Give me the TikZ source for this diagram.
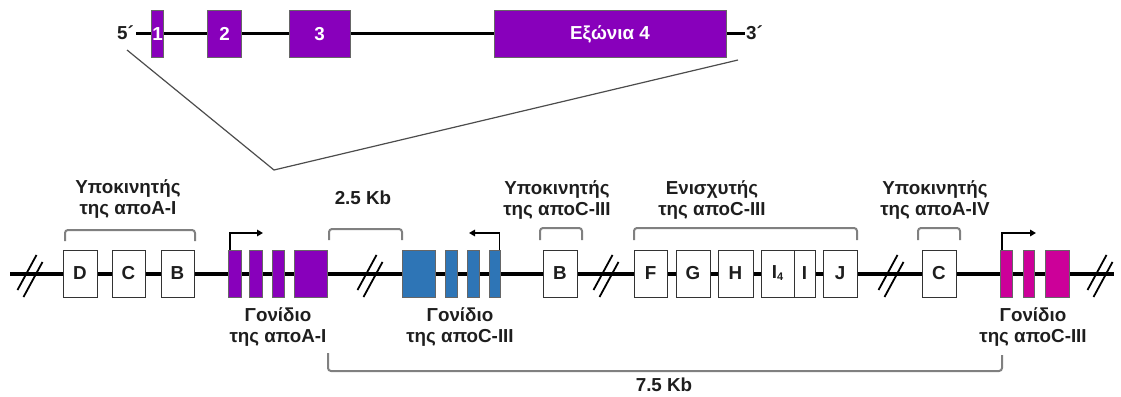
\documentclass[tikz,border=0pt]{standalone}
\usepackage{fontspec}
\setmainfont{Liberation Sans}
\usetikzlibrary{arrows.meta}
\definecolor{apoP}{RGB}{136,0,187}
\definecolor{apoB}{RGB}{46,117,182}
\definecolor{apoM}{RGB}{204,0,153}
\definecolor{brkgray}{RGB}{128,128,128}
\definecolor{txt}{RGB}{30,30,30}
\begin{document}
\begin{tikzpicture}[x=1pt,y=-1pt,
  lbl/.style={font=\fontsize{18.8}{21}\selectfont\bfseries, text=txt, align=center, inner sep=0},
  wlbl/.style={font=\fontsize{18.8}{21}\selectfont\bfseries, text=white},
  exP/.style={draw=black!60, line width=0.6pt, fill=apoP, inner sep=0, minimum height=47},
  exB/.style={draw=black!60, line width=0.6pt, fill=apoB, inner sep=0, minimum height=47},
  exM/.style={draw=black!60, line width=0.6pt, fill=apoM, inner sep=0, minimum height=47},
  wbox/.style={draw=black!80, line width=0.7pt, fill=white, inner sep=0, minimum height=47, font=\fontsize{18.8}{21}\selectfont\bfseries, text=txt},
  brack/.style={draw=brkgray, line width=2pt, rounded corners=3pt},
  dna/.style={draw=black, line width=3.2pt},
  slash/.style={draw=black, line width=1.8pt},
  tss/.style={draw=black, line width=1.6pt, -{Triangle[length=6pt,width=6.5pt]}},
  zoomln/.style={draw=black!70, line width=1.2pt}
]
\useasboundingbox (0,0) rectangle (1121,396);

% ---------- top gene ----------
\coordinate (tl) at (136,34);
\coordinate (tr) at (745,34);
\draw[dna, line width=3pt] (tl) -- (tr);
\node[lbl, anchor=east] (p5) at (134,33) {5´};
\node[lbl, anchor=west] (p3) at (746,33) {3´};
\node[exP, minimum width=12, minimum height=46.5] (x1) at (157.5,34) {};
\node[exP, minimum width=34, minimum height=46.5] (x2) at (224.5,34) {};
\node[exP, minimum width=61, minimum height=46.5] (x3) at (319.5,34) {};
\node[exP, minimum width=232, minimum height=46.5] (x4) at (610,34) {};
\node[wlbl] at (x1) {1};
\node[wlbl] at (x2) {2};
\node[wlbl] at (x3) {3};
\node[wlbl] at (x4) {Εξώνια 4};

% zoom lines
\coordinate (zl) at (127,50);
\coordinate (zr) at (738,60);
\coordinate (zb) at (274,170);
\draw[zoomln] (zl) -- (zb) -- (zr);

% ---------- main DNA ----------
\coordinate (L) at (10,274);
\coordinate (R) at (1114,274);
\draw[dna] (L) -- (R);

% break marks: two slashes
\foreach \cx in {30,370,606,891,1100}{
  \draw[slash] (\cx-3+9.5,255) -- (\cx-3-9.5,290);
  \draw[slash] (\cx+3+9.5,262) -- (\cx+3-9.5,297);
}

% apoA-I promoter boxes
\node[wbox, minimum width=34] (D) at (80,273.5) {D};
\node[wbox, minimum width=33] (Ca) at (128.5,273.5) {C};
\node[wbox, minimum width=33] (Ba) at (177.5,273.5) {B};

% apoA-I gene (purple)
\node[exP, minimum width=13] (a1) at (234.5,273.5) {};
\node[exP, minimum width=13] (a2) at (255.5,273.5) {};
\node[exP, minimum width=12] (a3) at (278,273.5) {};
\node[exP, minimum width=33] (a4) at (310.5,273.5) {};
\coordinate (ta) at (263,233);
\draw[tss] ([xshift=2pt]a1.north west) |- (ta);

% apoC-III gene (blue)
\node[exB, minimum width=33] (c4) at (418.5,273.5) {};
\node[exB, minimum width=12] (c3) at (451,273.5) {};
\node[exB, minimum width=12] (c2) at (473,273.5) {};
\node[exB, minimum width=11] (c1) at (494.5,273.5) {};
\coordinate (tc) at (469,233);
\draw[tss] ([xshift=-1pt]c1.north east) |- (tc);

% apoC-III promoter B
\node[wbox, minimum width=34] (Bc) at (560,273.5) {B};

% enhancer
\node[wbox, minimum width=33] (F) at (650.5,273.5) {F};
\node[wbox, minimum width=34] (G) at (693,273.5) {G};
\node[wbox, minimum width=35] (H) at (735.5,273.5) {H};
\node[wbox, minimum width=33] (I4) at (777.5,273.5) {I\raisebox{-2pt}{\fontsize{11}{11}\selectfont 4}};
\node[wbox, minimum width=21] (I) at (804.5,273.5) {I};
\node[wbox, minimum width=34] (J) at (840,273.5) {J};

% apoA-IV promoter C
\node[wbox, minimum width=34] (Cc) at (939,273.5) {C};

% apoC-III gene (magenta)
\node[exM, minimum width=12] (m1) at (1006,273.5) {};
\node[exM, minimum width=11] (m2) at (1028.5,273.5) {};
\node[exM, minimum width=24] (m3) at (1057,273.5) {};
\coordinate (tm) at (1036,233);
\draw[tss] ([xshift=2pt]m1.north west) |- (tm);

% ---------- brackets ----------
\draw[brack] (65,241) |- (195,230) -- (195,241);
\draw[brack] (329,240) |- (402,229) -- (402,240);
\draw[brack] (540,240) |- (582,228) -- (582,240);
\draw[brack] (634,240) |- (857,228) -- (857,240);
\draw[brack] (918,240) |- (960,228) -- (960,240);
\draw[brack] (328,353) |- (1002,371) -- (1002,355);

% ---------- labels ----------
\node[lbl] (l1) at (128,199) {Υποκινητής\\της αποA-I};
\node[lbl] (l2) at (363,198) {2.5 Kb};
\node[lbl] (l3) at (557,200) {Υποκινητής\\της αποC-III};
\node[lbl] (l4) at (712,200) {Ενισχυτής\\της αποC-III};
\node[lbl] (l5) at (935,200) {Υποκινητής\\της αποA-IV};
\node[lbl] (g1) at (278,327) {Γονίδιο\\της αποA-I};
\node[lbl] (g2) at (460,327) {Γονίδιο\\της αποC-III};
\node[lbl] (g3) at (1033,327) {Γονίδιο\\της αποC-III};
\node[lbl] (kb) at (664,385) {7.5 Kb};
\end{tikzpicture}
\end{document}
